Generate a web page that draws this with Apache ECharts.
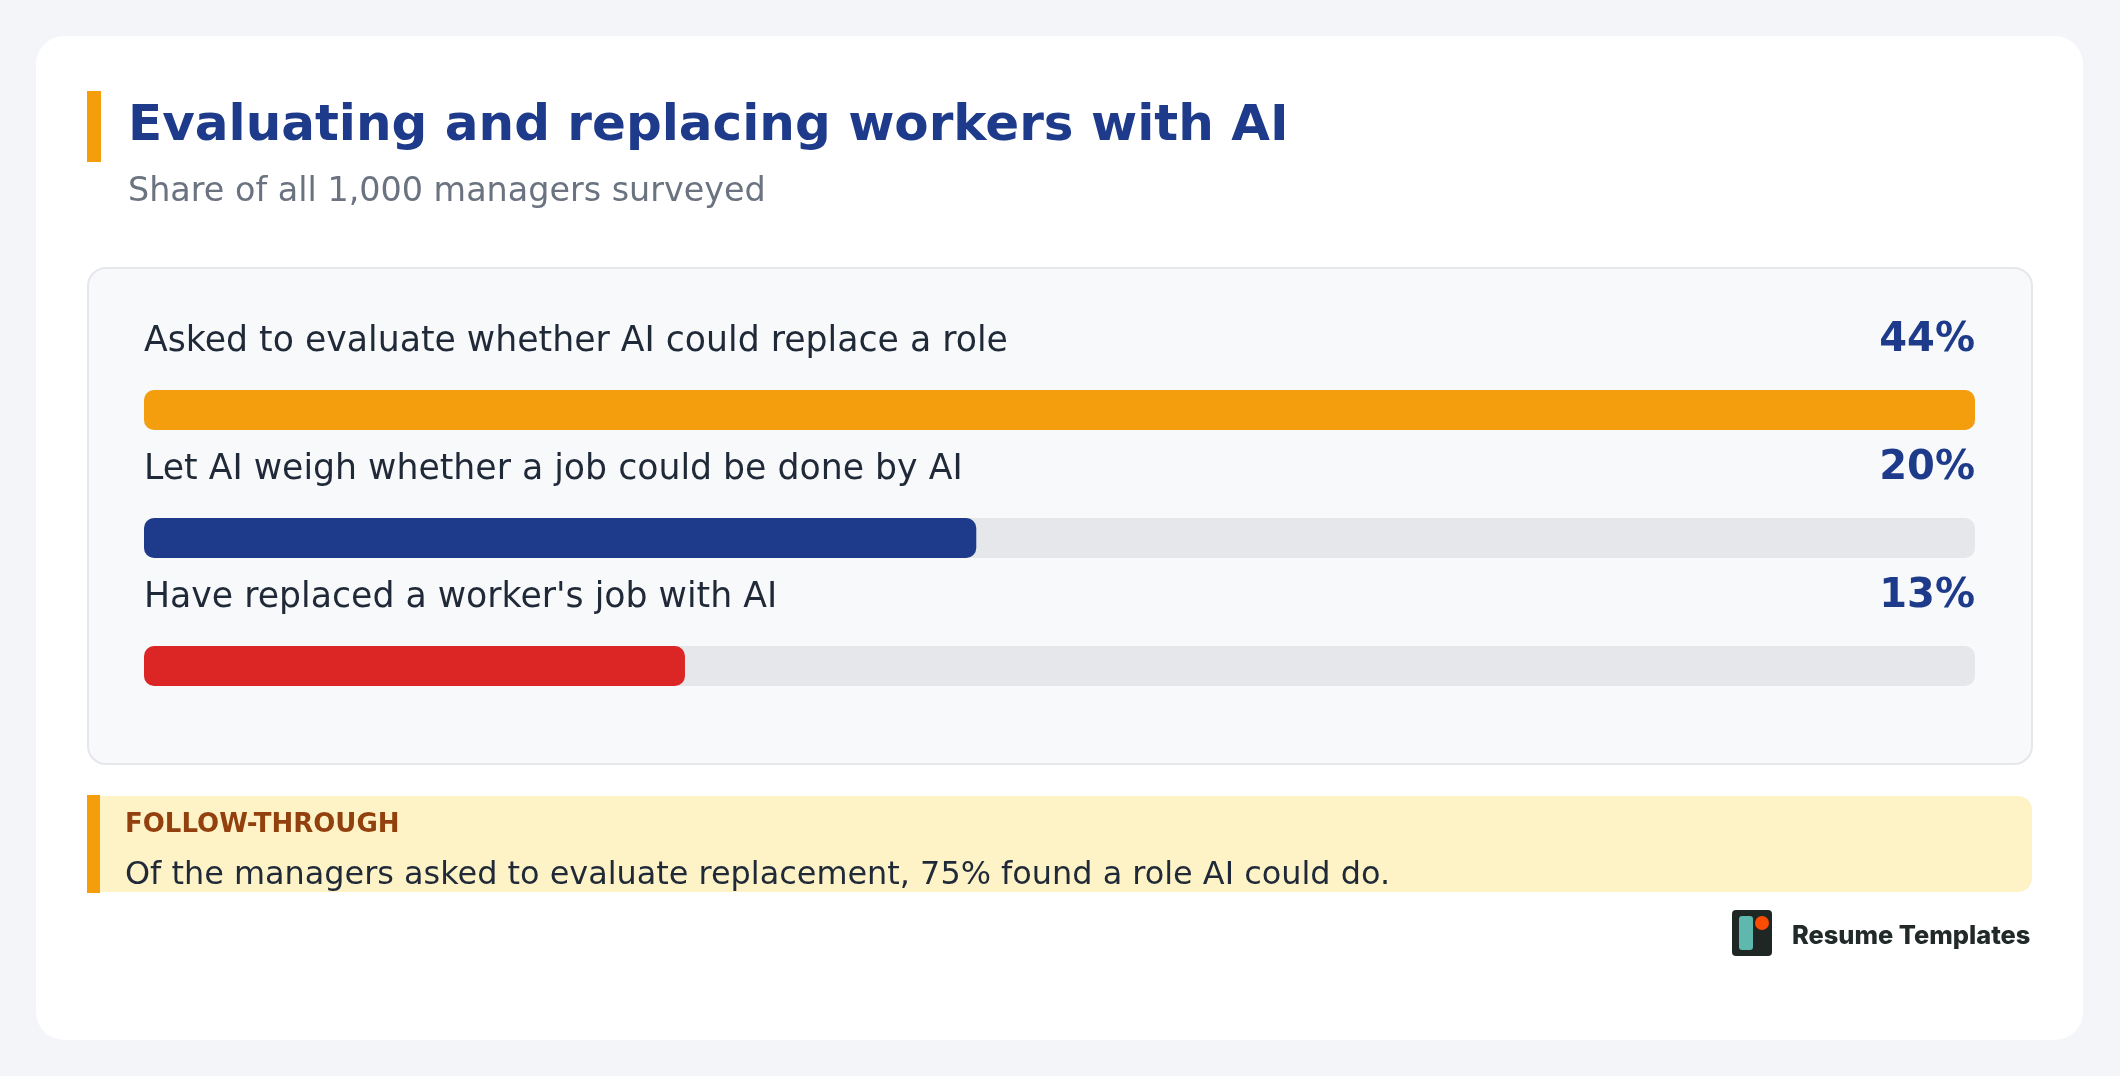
<!DOCTYPE html>
<html>
<head>
<meta charset="utf-8">
<script src="https://cdn.jsdelivr.net/npm/echarts@6/dist/echarts.min.js"></script>
<style>
html,body{margin:0;padding:0;background:#f4f5f9;}
#chart{width:2120px;height:1076px;}
</style>
</head>
<body>
<div id="chart"></div>
<script>
const categories = [
  "Asked to evaluate whether AI could replace a role",
  "Let AI weigh whether a job could be done by AI",
  "Have replaced a worker's job with AI"
];
const values = [44, 20, 13];
const barColors = ["#F49E0E", "#1E3A8A", "#DC2626"];
const titleText = "Evaluating and replacing workers with AI";
const subtitleText = "Share of all 1,000 managers surveyed";
const calloutHead = "FOLLOW-THROUGH";
const calloutBody = "Of the managers asked to evaluate replacement, 75% found a role AI could do.";
const brandText = "Resume Templates";

const axisMax = Math.max(...values);
const trackValues = categories.map(() => axisMax);
const FONT = "'DejaVu Sans', sans-serif";

const chart = echarts.init(document.getElementById('chart'), null, {renderer: 'canvas'});

chart.setOption({
  backgroundColor: '#f4f5f9',
  animation: false,
  graphic: [
    {type: 'rect', z: 0, shape: {x: 36, y: 36, width: 2047, height: 1004, r: 28}, style: {fill: '#ffffff'}},
    {type: 'rect', z: 1, shape: {x: 87, y: 91, width: 14, height: 71}, style: {fill: '#F59E0B'}},
    {type: 'text', z: 1, x: 128, y: 127.5, style: {text: titleText, font: "bold 50px " + FONT, fill: '#1E3A8A', verticalAlign: 'middle', align: 'left'}},
    {type: 'text', z: 1, x: 128, y: 192.5, style: {text: subtitleText, font: "33.4px " + FONT, fill: '#6B7280', verticalAlign: 'middle', align: 'left'}},
    {type: 'rect', z: 1, shape: {x: 88, y: 268, width: 1944, height: 496, r: 18}, style: {fill: '#F8F9FB', stroke: '#E5E7EB', lineWidth: 2}},
    {type: 'rect', z: 1, shape: {x: 88, y: 796, width: 1944, height: 96, r: [0, 14, 14, 0]}, style: {fill: '#FEF3C7'}},
    {type: 'rect', z: 2, shape: {x: 87, y: 795, width: 13, height: 98}, style: {fill: '#F59E0B'}},
    {type: 'text', z: 2, x: 125, y: 825, style: {text: calloutHead, font: "bold 26px " + FONT, fill: '#92400E', verticalAlign: 'middle', align: 'left'}},
    {type: 'text', z: 2, x: 125, y: 876, style: {text: calloutBody, font: "31.9px " + FONT, fill: '#1F2937', verticalAlign: 'middle', align: 'left'}},
    {type: 'rect', z: 2, shape: {x: 1732, y: 910, width: 40, height: 46, r: 4}, style: {fill: '#1F2725'}},
    {type: 'rect', z: 3, shape: {x: 1739, y: 916, width: 14, height: 34, r: 3}, style: {fill: '#5FB8AD'}},
    {type: 'circle', z: 3, shape: {cx: 1762, cy: 923, r: 7}, style: {fill: '#FC4C02'}},
    {type: 'text', z: 2, x: 1792, y: 936, style: {text: brandText, font: "800 25.4px Inter, sans-serif", fill: '#222A29', verticalAlign: 'middle', align: 'left'}}
  ],
  grid: {left: 144, right: 145, top: 346, height: 384, containLabel: false},
  xAxis: {type: 'value', min: 0, max: axisMax, show: false},
  yAxis: {type: 'category', data: categories, inverse: true, show: false},
  series: [
    {
      type: 'bar', name: 'track', data: trackValues, barWidth: 40, barGap: '-100%', z: 2,
      itemStyle: {color: '#E5E7EB', borderRadius: 10},
      label: {
        show: true, position: ['100%', -49.5], align: 'right', verticalAlign: 'middle',
        formatter: p => values[p.dataIndex] + '%',
        fontFamily: FONT, fontWeight: 'bold', fontSize: 40, color: '#1E3A8A'
      },
      silent: true
    },
    {
      type: 'bar', name: 'share', barWidth: 40, barGap: '-100%', z: 3,
      data: values.map((v, i) => ({value: v, itemStyle: {color: barColors[i]}})),
      itemStyle: {borderRadius: 10},
      label: {
        show: true, position: [0, -48.5], align: 'left', verticalAlign: 'middle',
        formatter: p => categories[p.dataIndex],
        fontFamily: FONT, fontSize: 34.7, color: '#1F2937'
      }
    }
  ]
});
</script>
</body>
</html>
